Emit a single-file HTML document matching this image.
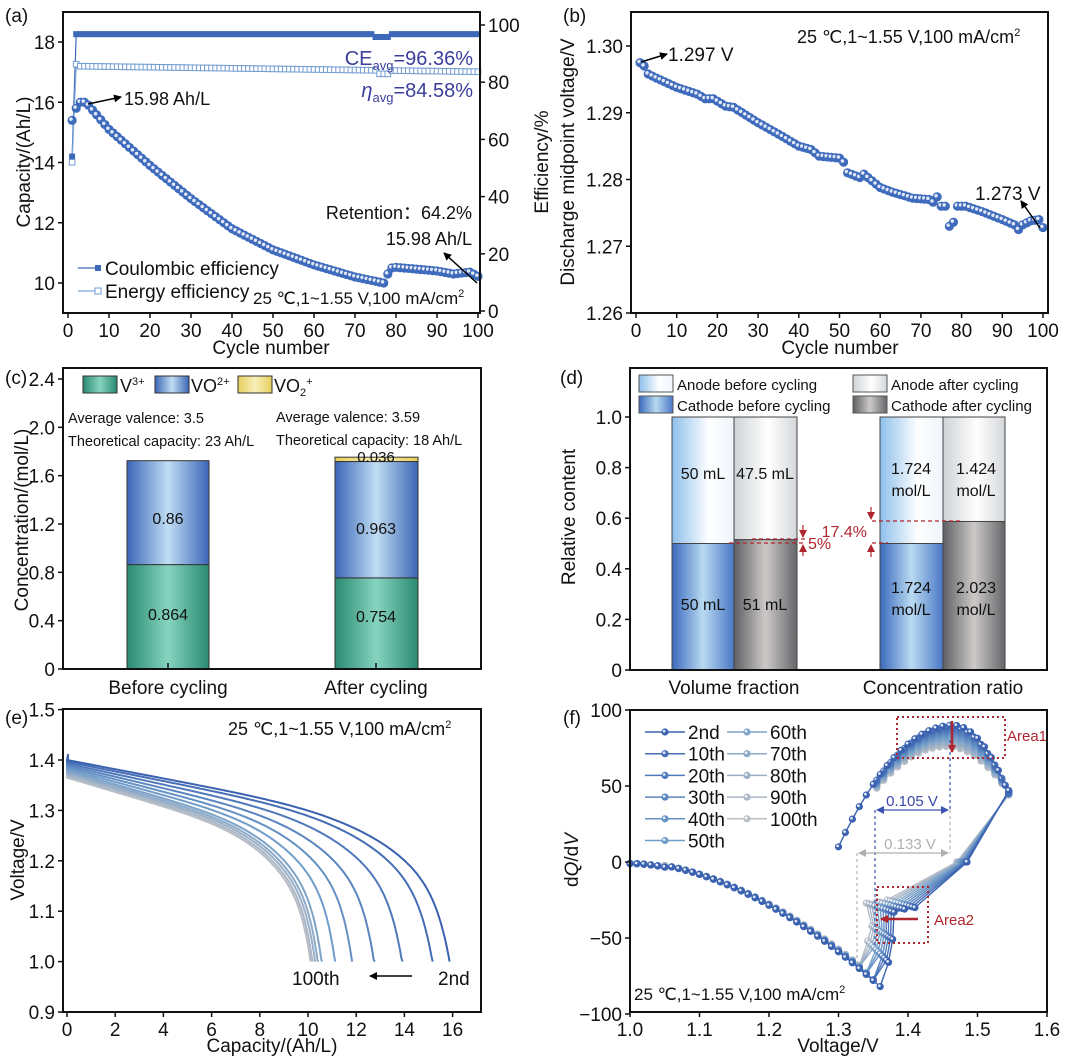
<!DOCTYPE html>
<html><head><meta charset="utf-8"><style>
html,body{margin:0;padding:0;background:#fff}
svg{display:block;font-family:"Liberation Sans",Arial,sans-serif}
</style></head><body>
<svg id="s" xmlns="http://www.w3.org/2000/svg" width="1080" height="1057" viewBox="0 0 1080 1057">
<defs>
<linearGradient id="gGreen" x1="0" x2="1"><stop offset="0" stop-color="#2a8a6f"/><stop offset="0.5" stop-color="#86d4c0"/><stop offset="1" stop-color="#2a8a6f"/></linearGradient>
<linearGradient id="gBlue" x1="0" x2="1"><stop offset="0" stop-color="#3b66b6"/><stop offset="0.5" stop-color="#c0ddf3"/><stop offset="1" stop-color="#3b66b6"/></linearGradient>
<linearGradient id="gYel" x1="0" x2="1"><stop offset="0" stop-color="#e6cf5e"/><stop offset="0.5" stop-color="#f8eeb8"/><stop offset="1" stop-color="#e6cf5e"/></linearGradient>
<linearGradient id="gAB" x1="0" x2="1"><stop offset="0" stop-color="#8ebfeb"/><stop offset="0.6" stop-color="#ffffff"/><stop offset="1" stop-color="#eef5fc"/></linearGradient>
<linearGradient id="gCB" x1="0" x2="1"><stop offset="0" stop-color="#3a69bd"/><stop offset="0.5" stop-color="#b9daf1"/><stop offset="1" stop-color="#4a78c6"/></linearGradient>
<linearGradient id="gAA" x1="0" x2="1"><stop offset="0" stop-color="#cfd3d6"/><stop offset="0.55" stop-color="#ffffff"/><stop offset="1" stop-color="#d4d7da"/></linearGradient>
<linearGradient id="gCA" x1="0" x2="1"><stop offset="0" stop-color="#5f6063"/><stop offset="0.5" stop-color="#cdc9c8"/><stop offset="1" stop-color="#65666a"/></linearGradient>
<marker id="ah" markerWidth="8" markerHeight="8" refX="7" refY="4" orient="auto" markerUnits="userSpaceOnUse"><path d="M0,0 L8,4 L0,8 z" fill="#000"/></marker>
<marker id="ahr" markerWidth="8" markerHeight="8" refX="7" refY="4" orient="auto" markerUnits="userSpaceOnUse"><path d="M0,0 L8,4 L0,8 z" fill="#b0262e"/></marker>
<marker id="ahb" markerWidth="8" markerHeight="8" refX="7" refY="4" orient="auto" markerUnits="userSpaceOnUse"><path d="M0,0 L8,4 L0,8 z" fill="#3a52b0"/></marker>
<marker id="ahg" markerWidth="8" markerHeight="8" refX="7" refY="4" orient="auto" markerUnits="userSpaceOnUse"><path d="M0,0 L8,4 L0,8 z" fill="#b0b0b0"/></marker>
</defs>
</svg>
<script>
const S=document.getElementById('s');const NS='http://www.w3.org/2000/svg';
function el(t,a,txt,p){const e=document.createElementNS(NS,t);for(const k in a)e.setAttribute(k,a[k]);if(txt!=null)e.textContent=txt;(p||S).appendChild(e);return e;}
function T(x,y,s,sz,anc,extra){const a=Object.assign({x:x,y:y,'font-size':sz||19,'text-anchor':anc||'start',fill:'#111'},extra||{});return el('text',a,s);}
function line(x1,y1,x2,y2,st,w,extra){return el('line',Object.assign({x1:x1,y1:y1,x2:x2,y2:y2,stroke:st||'#000','stroke-width':w||1},extra||{}));}
function box(l,t,r,b){el('rect',{x:l,y:t,width:r-l,height:b-t,fill:'none',stroke:'#111','stroke-width':2});}
function xt(vals,f,yb,sz){vals.forEach(v=>{line(f(v[0]),yb,f(v[0]),yb+5,'#111',1.5);T(f(v[0]),yb+24,v[1],sz||19,'middle');});}
function yt(vals,f,xl,sz,right){vals.forEach(v=>{if(right){line(xl,f(v[0]),xl+5,f(v[0]),'#111',1.5);T(xl+8,f(v[0])+7,v[1],sz||19,'start');}else{line(xl-5,f(v[0]),xl,f(v[0]),'#111',1.5);T(xl-8,f(v[0])+7,v[1],sz||19,'end');}});}
function rl(x,y,s,sz){const t=T(x,y,s,sz||19,'middle');t.setAttribute('transform','rotate(-90 '+x+' '+y+')');return t;}
function ball(x,y,r,c){el('circle',{cx:x,cy:y,r:r,fill:c});el('circle',{cx:x-r*0.25,cy:y-r*0.25,r:r*0.38,fill:'#fff','fill-opacity':0.85});}
function interp(pts,n){for(let i=0;i<pts.length-1;i++){if(n>=pts[i][0]&&n<=pts[i+1][0]){const f=(n-pts[i][0])/(pts[i+1][0]-pts[i][0]);return pts[i][1]+f*(pts[i+1][1]-pts[i][1]);}}return pts[pts.length-1][1];}

// ===== (a)
T(5,22,'(a)',19);
const ax=n=>68+n*4.1, ayL=c=>283-(c-10)*30.125, ayR=e=>311-e*2.86;
let ce=[],ee=[];for(let n=1;n<=100;n++){let c=n==1?54:96.8+(n>=75&&n<=78?-1:0);ce.push([ax(n),ayR(c)]);let e=n==1?52:(n==2?86.3:85.6-(n-3)*0.02+(n>=76&&n<=78?-1.2:0));ee.push([ax(n),ayR(e)]);}
el('polyline',{points:ce.map(p=>p.join(',')).join(' '),fill:'none',stroke:'#3d68b8','stroke-width':1.2});
el('polyline',{points:ee.map(p=>p.join(',')).join(' '),fill:'none',stroke:'#7aa6d8','stroke-width':1.2});
ce.forEach(p=>el('rect',{x:p[0]-3,y:p[1]-3,width:6,height:6,fill:'#3d68b8'}));
ee.forEach(p=>el('rect',{x:p[0]-2.8,y:p[1]-2.8,width:5.6,height:5.6,fill:'#fff',stroke:'#6f9bd3','stroke-width':1}));
const capPts=[[1,15.4],[2,15.8],[3,16.0],[4,16.0],[5,15.9],[10,15.1],[20,13.9],[30,12.8],[40,11.8],[50,11.1],[60,10.6],[70,10.2],[77,10.0],[78,10.3],[79,10.5],[80,10.52],[90,10.4],[94,10.3],[98,10.36],[100,10.22]];
for(let n=1;n<=100;n++){ball(ax(n),ayL(interp(capPts,n)),4.6,'#3f6bbd');}
box(63,12,480,313);
xt([0,10,20,30,40,50,60,70,80,90,100].map(v=>[v,''+v]),ax,313);
yt([10,12,14,16,18].map(v=>[v,''+v]),ayL,63);
yt([0,20,40,60,80,100].map(v=>[v,''+v]),ayR,480,19,true);
T(271,354,'Cycle number',19,'middle');
rl(30,162,'Capacity/(Ah/L)');rl(548,162,'Efficiency/%');
let t1=T(473,65,'',20,'end',{fill:'#3b3f9a'});t1.innerHTML='CE<tspan font-size="13" dy="5">avg</tspan><tspan dy="-5">=96.36%</tspan>';
let t2=T(473,97,'',20,'end',{fill:'#3b3f9a'});t2.innerHTML='<tspan font-style="italic">η</tspan><tspan font-size="13" dy="5">avg</tspan><tspan dy="-5">=84.58%</tspan>';
line(88,104,121,97,'#000',1.5,{'marker-end':'url(#ah)'});T(124,105,'15.98 Ah/L',18);
T(472,219,'Retention：64.2%',18,'end');T(472,245,'15.98 Ah/L',18,'end');
line(477,283,444,253,'#000',1.5,{'marker-end':'url(#ah)'});
line(78,268,100,268,'#3d68b8',1.2);el('rect',{x:95,y:265,width:6,height:6,fill:'#3d68b8'});T(105,275,'Coulombic efficiency',19);
line(78,291,100,291,'#7aa6d8',1.2);el('rect',{x:95,y:288,width:6,height:6,fill:'#fff',stroke:'#6f9bd3'});T(105,298,'Energy efficiency',19);
let t3=T(253,304,'',17);t3.innerHTML='25 ℃,1~1.55 V,100 mA/cm<tspan font-size="11" dy="-7">2</tspan>';

// ===== (b)
T(563,22,'(b)',19);
const bx=n=>636+n*4.07, by=v=>313-(v-1.26)*6675;
const mp=[[1,1.2975],[2,1.297],[3,1.2958],[5,1.2952],[10,1.2938],[15,1.2928],[17,1.2921],[19,1.2921],[22,1.291],[24,1.2908],[30,1.2885],[35,1.2868],[40,1.285],[43,1.2845],[45,1.2835],[50,1.2832],[51,1.2826],[52,1.281],[55,1.2803],[56,1.2808],[60,1.2788],[63,1.2781],[68,1.2772],[72,1.277],[73,1.2766],[74,1.2774],[75,1.276],[76,1.276],[77,1.273],[78,1.2736],[79,1.276],[81,1.276],[85,1.2752],[90,1.274],[93,1.2732],[94,1.2725],[95,1.2732],[97,1.2738],[99,1.274],[100,1.2728]];
for(let n=1;n<=100;n++)ball(bx(n),by(interp(mp,n)),4.6,'#3f6bbd');
box(631,12,1048,313);
xt([0,10,20,30,40,50,60,70,80,90,100].map(v=>[v,''+v]),bx,313);
yt([[1.26,'1.26'],[1.27,'1.27'],[1.28,'1.28'],[1.29,'1.29'],[1.30,'1.30']],by,631);
T(840,354,'Cycle number',19,'middle');rl(574,162,'Discharge midpoint voltage/V');
let t4=T(797,43,'',18);t4.innerHTML='25 ℃,1~1.55 V,100 mA/cm<tspan font-size="11" dy="-7">2</tspan>';
line(641,62,667,54,'#000',1.5,{'marker-end':'url(#ah)'});T(668,61,'1.297 V',19);
T(975,200,'1.273 V',19);line(1040,228,1021,201,'#000',1.5,{'marker-end':'url(#ah)'});

// ===== (c)
T(5,384,'(c)',19);
const cy=v=>669-v*120.83;
function bar(x0,x1,v0,v1,f){el('rect',{x:x0,y:cy(v1),width:x1-x0,height:cy(v0)-cy(v1),fill:f,stroke:'#333','stroke-width':1});}
bar(127,209,0,0.864,'url(#gGreen)');bar(127,209,0.864,1.724,'url(#gBlue)');
bar(335,418,0,0.754,'url(#gGreen)');bar(335,418,0.754,1.717,'url(#gBlue)');bar(335,418,1.717,1.753,'url(#gYel)');
T(168,620,'0.864',16,'middle');T(168,524,'0.86',16,'middle');T(376,622,'0.754',16,'middle');T(376,534,'0.963',16,'middle');T(376,462,'0.036',15,'middle');
box(63,368,481,669);
yt([[0,'0'],[0.4,'0.4'],[0.8,'0.8'],[1.2,'1.2'],[1.6,'1.6'],[2.0,'2.0'],[2.4,'2.4']],cy,63);
line(168,669,168,663,'#111',1.5);line(376,669,376,663,'#111',1.5);
T(168,694,'Before cycling',19,'middle');T(376,694,'After cycling',19,'middle');
rl(28,520,'Concentration/(mol/L)');
el('rect',{x:83,y:376,width:34,height:17,fill:'url(#gGreen)',stroke:'#333'});let l1=T(120,392,'',18);l1.innerHTML='V<tspan font-size="11" dy="-7">3+</tspan>';
el('rect',{x:155,y:376,width:34,height:17,fill:'url(#gBlue)',stroke:'#333'});let l2=T(191,392,'',18);l2.innerHTML='VO<tspan font-size="11" dy="-7">2+</tspan>';
el('rect',{x:238,y:376,width:34,height:17,fill:'url(#gYel)',stroke:'#333'});let l3=T(274,392,'',18);l3.innerHTML='VO<tspan font-size="11" dy="4">2</tspan><tspan font-size="11" dy="-11">+</tspan>';
T(68,423,'Average valence: 3.5',14.5);T(68,446,'Theoretical capacity: 23 Ah/L',14.5);
T(276,422,'Average valence: 3.59',14.5);T(276,445,'Theoretical capacity: 18 Ah/L',14.5);

// ===== (d)
T(560,384,'(d)',19);
const dy=v=>670-v*253;
function dbar(x0,x1,v0,v1,f){el('rect',{x:x0,y:dy(v1),width:x1-x0,height:dy(v0)-dy(v1),fill:f,stroke:'#444','stroke-width':1});}
dbar(672,734,0.5,1,'url(#gAB)');dbar(672,734,0,0.5,'url(#gCB)');
dbar(734,797,0.515,1,'url(#gAA)');dbar(734,797,0,0.515,'url(#gCA)');
dbar(880,943,0.5,1,'url(#gAB)');dbar(880,943,0,0.5,'url(#gCB)');
dbar(943,1005,0.587,1,'url(#gAA)');dbar(943,1005,0,0.587,'url(#gCA)');
T(703,479,'50 mL',16,'middle');T(765,479,'47.5 mL',16,'middle');T(703,610,'50 mL',16,'middle');T(765,610,'51 mL',16,'middle');
T(911,474,'1.724',16,'middle');T(911,496,'mol/L',16,'middle');T(976,474,'1.424',16,'middle');T(976,496,'mol/L',16,'middle');
T(911,593,'1.724',16,'middle');T(911,615,'mol/L',16,'middle');T(976,593,'2.023',16,'middle');T(976,615,'mol/L',16,'middle');
const red='#b0262e';
line(729,543,805,543,red,1.3,{'stroke-dasharray':'4,3'});line(752,539,805,539,red,1.3,{'stroke-dasharray':'4,3'});
line(803,525,803,537,red,1.2,{'marker-end':'url(#ahr)'});line(803,556,803,545,red,1.2,{'marker-end':'url(#ahr)'});
T(808,549,'5%',16,'start',{fill:red});
line(872,521,962,521,red,1.3,{'stroke-dasharray':'4,3'});line(872,543,888,543,red,1.3,{'stroke-dasharray':'4,3'});
line(871,507,871,519,red,1.2,{'marker-end':'url(#ahr)'});line(871,557,871,545,red,1.2,{'marker-end':'url(#ahr)'});
T(867,537,'17.4%',16,'end',{fill:red});
box(630,368,1047,670);
yt([[0,'0'],[0.2,'0.2'],[0.4,'0.4'],[0.6,'0.6'],[0.8,'0.8'],[1.0,'1.0']],dy,630);
T(734,694,'Volume fraction',19,'middle');T(943,694,'Concentration ratio',19,'middle');
rl(575,517,'Relative content');
el('rect',{x:639,y:375,width:34,height:17,fill:'url(#gAB)',stroke:'#555'});T(677,390,'Anode before cycling',15);
el('rect',{x:639,y:396,width:34,height:17,fill:'url(#gCB)',stroke:'#555'});T(677,411,'Cathode before cycling',15);
el('rect',{x:853,y:375,width:34,height:17,fill:'url(#gAA)',stroke:'#555'});T(891,390,'Anode after cycling',15);
el('rect',{x:853,y:396,width:34,height:17,fill:'url(#gCA)',stroke:'#555'});T(891,411,'Cathode after cycling',15);

function mix(a,b,f){const h=s=>[parseInt(s.substr(1,2),16),parseInt(s.substr(3,2),16),parseInt(s.substr(5,2),16)];const A=h(a),B=h(b);return 'rgb('+A.map((v,i)=>Math.round(v+(B[i]-v)*f)).join(',')+')';}
function col(t){return t<0.5?mix('#3a62b0','#6f9cc9',t*2):mix('#6f9cc9','#b9bec6',(t-0.5)*2);}

// ===== (e)
T(5,724,'(e)',19);
const ex=q=>67+q*24.1, ey=v=>1012-(v-0.9)*504;
const ends=[15.85,15.15,13.9,12.75,11.85,11.15,10.6,10.45,10.35,10.25,10.18];
for(let i=ends.length-1;i>=0;i--){const t=i/10;const V0=1.40-t*0.035;const Q=ends[i]/0.965;let pts=[[ex(0.05),ey(V0+0.012)]];let q=0;for(;q<=Q*1.05;q+=Q/300){const x=q/Q;const V=V0-0.15*x-0.18*Math.pow(x,6)-0.3*Math.pow(x,30);if(V<=1.0){pts.push([ex(q),ey(1.0)]);break;}pts.push([ex(q),ey(V)]);}
el('polyline',{points:pts.map(p=>p[0].toFixed(1)+','+p[1].toFixed(1)).join(' '),fill:'none',stroke:col(t),'stroke-width':2});}
box(63,709,481,1012);
xt([0,2,4,6,8,10,12,14,16].map(v=>[v,''+v]),ex,1012);
yt([[0.9,'0.9'],[1.0,'1.0'],[1.1,'1.1'],[1.2,'1.2'],[1.3,'1.3'],[1.4,'1.4'],[1.5,'1.5']],ey,63);
T(272,1052,'Capacity/(Ah/L)',19,'middle');rl(24,860,'Voltage/V');
let t5=T(228,735,'',18);t5.innerHTML='25 ℃,1~1.55 V,100 mA/cm<tspan font-size="11" dy="-7">2</tspan>';
T(292,985,'100th',19);line(412,976,370,976,'#000',1.5,{'marker-end':'url(#ah)'});T(438,985,'2nd',19);

// ===== (f)
T(563,724,'(f)',19);
const fx=V=>630+(V-1)*695, fy=d=>862-d*1.52;
for(let i=10;i>=0;i--){const t=i/10;const c=col(t);let P=[];
 const Vm=1.36-t*0.03, mn=-82+t*14;
 for(let V=1.0;V<=Vm+1e-6;V+=0.01){const u=(V-1.0)/(Vm-1.0);P.push([V,mn*Math.pow(u,1.8)-(u<0.15?1:0)]);}
 const a2x=1.41-t*0.04;
 P.push([Vm+0.012,mn+16]);P.push([Vm+0.018,mn*0.62]);
 P.push([a2x-0.03,-33+t*6]);P.push([a2x-0.015,-31+t*5]);P.push([a2x,-30+t*5]);
 P.push([1.485-t*0.015,0]);
 const pk=90-t*14, pc=1.465-t*0.01, vs=(i==0?1.30:1.355);
 const ch=[];for(let V=vs;V<=1.546;V+=0.01){let y;if(V<pc){const k=(pk-10)/Math.pow(pc-1.30,2);y=pk-k*Math.pow(pc-V,2);}else{const k=(pk-45)/Math.pow(1.545-pc,2);y=pk-k*Math.pow(V-pc,2);}ch.push([V,y]);}
 P.push([1.545,47-t*3]);
 for(let j=ch.length-1;j>=0;j--)P.push(ch[j]);
 el('polyline',{points:P.map(p=>fx(p[0]).toFixed(1)+','+fy(p[1]).toFixed(1)).join(' '),fill:'none',stroke:c,'stroke-width':1.4});
 P.forEach(p=>ball(fx(p[0]),fy(p[1]),3.6,c));
}
line(875,810,875,947,'#3a52b0',1.2,{'stroke-dasharray':'3,3'});line(950,740,950,810,'#3a52b0',1.2,{'stroke-dasharray':'3,3'});
line(857,853,857,963,'#b0b0b0',1.2,{'stroke-dasharray':'3,3'});line(950,810,950,853,'#b0b0b0',1.2,{'stroke-dasharray':'3,3'});
line(912,810,877,810,'#3a52b0',1.3,{'marker-end':'url(#ahb)'});line(912,810,948,810,'#3a52b0',1.3,{'marker-end':'url(#ahb)'});
T(912,806,'0.105 V',15,'middle',{fill:'#3a48a8'});
line(903,853,859,853,'#b0b0b0',1.3,{'marker-end':'url(#ahg)'});line(903,853,948,853,'#b0b0b0',1.3,{'marker-end':'url(#ahg)'});
T(910,849,'0.133 V',15,'middle',{fill:'#b0b0b0'});
el('rect',{x:897,y:717,width:108,height:41,fill:'none',stroke:red,'stroke-width':2,'stroke-dasharray':'2,3'});
line(952,721,952,752,red,2.5,{'marker-end':'url(#ahr)'});T(1007,741,'Area1',15,'start',{fill:red});
el('rect',{x:877,y:887,width:51,height:56,fill:'none',stroke:red,'stroke-width':2,'stroke-dasharray':'2,3'});
line(918,919,881,919,red,2.5,{'marker-end':'url(#ahr)'});T(934,925,'Area2',15,'start',{fill:red});
box(630,710,1047,1012);
xt([1.0,1.1,1.2,1.3,1.4,1.5,1.6].map(v=>[v,v.toFixed(1)]),fx,1012);
yt([[-100,'−100'],[-50,'−50'],[0,'0'],[50,'50'],[100,'100']],fy,630);
T(838,1052,'Voltage/V',19,'middle');
let yl=rl(578,860,'');yl.innerHTML='d<tspan font-style="italic">Q</tspan>/d<tspan font-style="italic">V</tspan>';
let t6=T(634,1000,'',17);t6.innerHTML='25 ℃,1~1.55 V,100 mA/cm<tspan font-size="11" dy="-7">2</tspan>';
const lab=['2nd','10th','20th','30th','40th','50th','60th','70th','80th','90th','100th'];
lab.forEach((s,i)=>{const colm=i<6?0:1,row=i<6?i:i-6;const x0=colm?727:645,y=732+row*21.7;const c=col(i/10);line(x0,y,x0+40,y,c,1.5);ball(x0+20,y,3.6,c);T(x0+43,y+7,s,19);});
</script>
</body></html>
